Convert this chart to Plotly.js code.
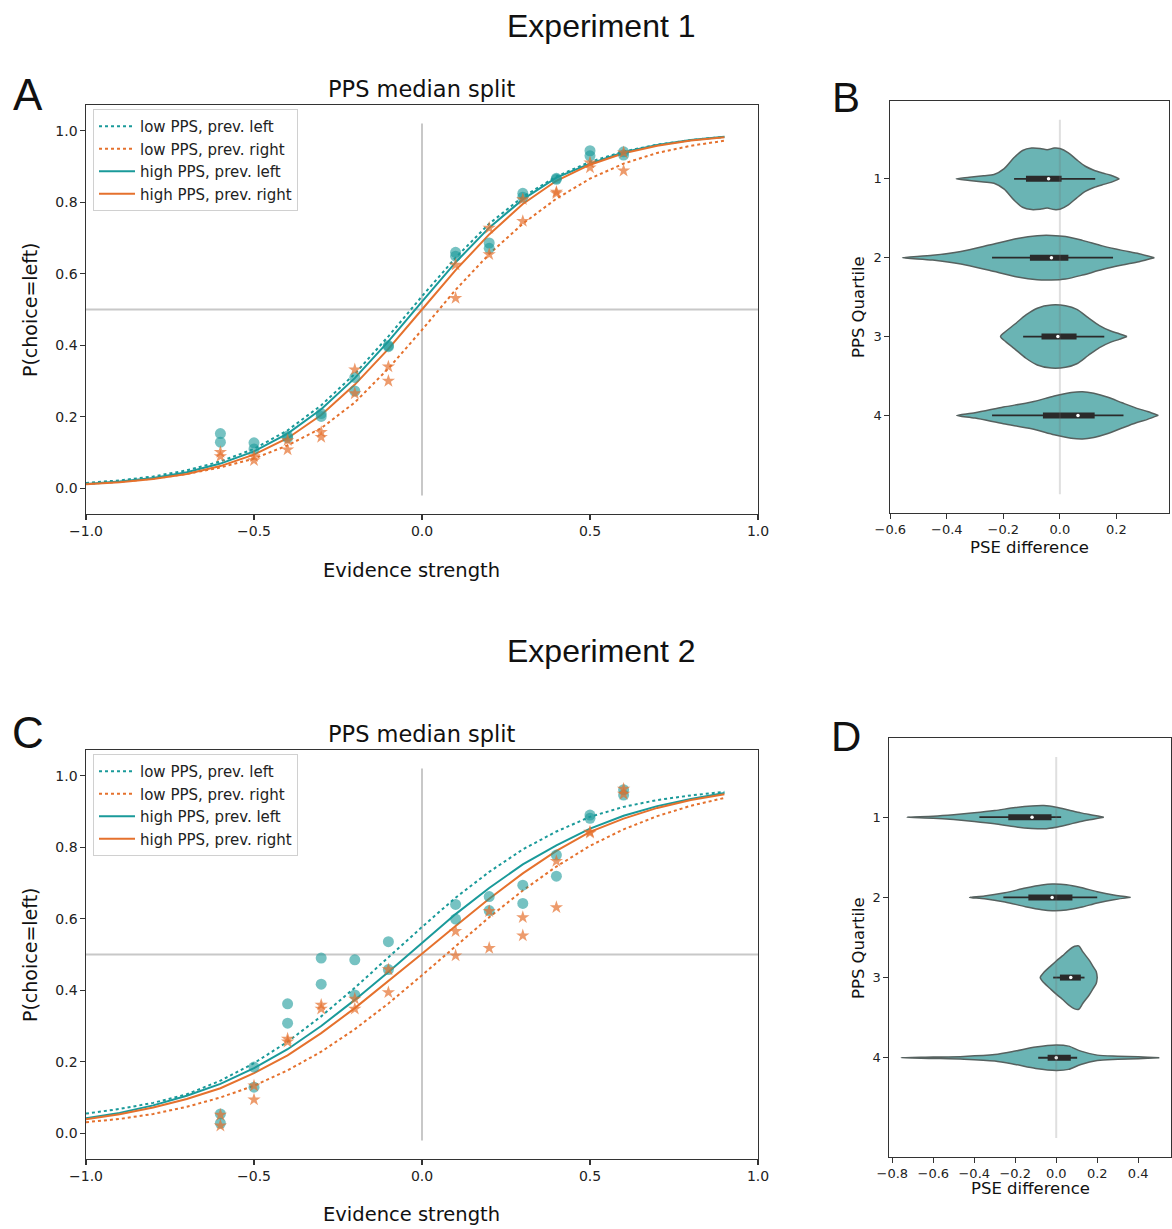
<!DOCTYPE html>
<html>
<head>
<meta charset="utf-8">
<script src="https://cdn.plot.ly/plotly-3.0.1.min.js"></script>
<style>html,body{margin:0;padding:0;background:#fff;}#chart{width:1172px;height:1229px;}</style>
</head>
<body>
<div id="chart"></div>
<script>
// ---------------- DATA ----------------
const evidenceX = [-0.6,-0.5,-0.4,-0.3,-0.2,-0.1,0.1,0.2,0.3,0.4,0.5,0.6];
const curveX = [-1.0,-0.9,-0.8,-0.7,-0.6,-0.5,-0.4,-0.3,-0.2,-0.1,0.0,0.1,0.2,0.3,0.4,0.5,0.6,0.7,0.8,0.9];

// Experiment 1 observed proportions
const exp1LowLeftPts   = [0.153,0.127,0.146,0.209,0.310,0.399,0.660,0.686,0.825,0.867,0.944,0.941];
const exp1HighLeftPts  = [0.129,0.110,0.141,0.201,0.272,0.396,0.649,0.671,0.814,0.864,0.930,0.932];
const exp1LowRightPts  = [0.089,0.078,0.108,0.143,0.265,0.300,0.532,0.654,0.747,0.825,0.897,0.888];
const exp1HighRightPts = [0.101,0.089,0.134,0.157,0.332,0.340,0.625,0.728,0.808,0.829,0.911,0.939];
// Experiment 1 fitted curves
const exp1LowLeftFit   = [0.015,0.022,0.033,0.050,0.075,0.110,0.162,0.232,0.320,0.425,0.537,0.645,0.740,0.815,0.872,0.913,0.942,0.961,0.974,0.983];
const exp1LowRightFit  = [0.012,0.018,0.027,0.040,0.058,0.083,0.120,0.168,0.240,0.335,0.443,0.555,0.655,0.740,0.810,0.866,0.908,0.938,0.958,0.972];
const exp1HighLeftFit  = [0.012,0.019,0.029,0.045,0.069,0.103,0.153,0.221,0.308,0.411,0.522,0.632,0.729,0.808,0.869,0.908,0.940,0.960,0.974,0.983];
const exp1HighRightFit = [0.011,0.017,0.026,0.040,0.062,0.094,0.140,0.205,0.290,0.390,0.500,0.610,0.710,0.795,0.860,0.905,0.937,0.958,0.973,0.982];

// Experiment 2 observed proportions
const exp2LowLeftPts   = [0.054,0.185,0.362,0.490,0.485,0.536,0.640,0.662,0.694,0.778,0.890,0.961];
const exp2HighLeftPts  = [0.028,0.129,0.308,0.417,0.387,0.458,0.599,0.623,0.643,0.719,0.881,0.946];
const exp2LowRightPts  = [0.021,0.094,0.256,0.348,0.348,0.394,0.497,0.518,0.553,0.632,0.840,0.949];
const exp2HighRightPts = [0.051,0.133,0.264,0.359,0.376,0.458,0.565,0.621,0.604,0.761,0.843,0.963];
// Experiment 2 fitted curves
const exp2LowLeftFit   = [0.055,0.068,0.085,0.109,0.147,0.196,0.256,0.327,0.407,0.492,0.577,0.659,0.731,0.794,0.844,0.885,0.913,0.932,0.945,0.955];
const exp2LowRightFit  = [0.031,0.040,0.054,0.074,0.100,0.133,0.176,0.228,0.291,0.363,0.442,0.524,0.604,0.679,0.746,0.804,0.850,0.887,0.916,0.938];
const exp2HighLeftFit  = [0.042,0.057,0.078,0.105,0.138,0.182,0.235,0.300,0.373,0.451,0.532,0.613,0.686,0.752,0.805,0.852,0.888,0.915,0.935,0.952];
const exp2HighRightFit = [0.039,0.053,0.072,0.096,0.126,0.168,0.218,0.280,0.350,0.425,0.502,0.580,0.656,0.727,0.790,0.843,0.880,0.910,0.932,0.948];

const legendLabels = ["low PPS, prev. left","low PPS, prev. right","high PPS, prev. left","high PPS, prev. right"];

// Violin density outlines (PSE difference grid, half-width in quartile units)
const quartiles = [1,2,3,4];
const exp1Q1Grid = [-0.367,-0.32,-0.27,-0.233,-0.197,-0.162,-0.132,-0.10,-0.07,-0.045,-0.02,0.0,0.03,0.06,0.09,0.12,0.15,0.18,0.21];
const exp1Q1Half = [0,0.02,0.04,0.055,0.13,0.27,0.36,0.39,0.385,0.37,0.39,0.385,0.33,0.24,0.16,0.11,0.075,0.045,0];
const exp1Q2Grid = [-0.557,-0.45,-0.35,-0.25,-0.15,-0.08,-0.03,0.02,0.08,0.15,0.22,0.28,0.334];
const exp1Q2Half = [0,0.03,0.08,0.16,0.245,0.28,0.283,0.27,0.22,0.15,0.093,0.05,0];
const exp1Q3Grid = [-0.21,-0.19,-0.16,-0.12,-0.08,-0.03,0.02,0.06,0.10,0.14,0.18,0.21,0.237];
const exp1Q3Half = [0,0.07,0.156,0.275,0.36,0.40,0.39,0.345,0.24,0.14,0.07,0.036,0];
const exp1Q4Grid = [-0.365,-0.30,-0.20,-0.10,-0.02,0.04,0.08,0.12,0.17,0.22,0.27,0.31,0.348];
const exp1Q4Half = [0,0.034,0.106,0.17,0.245,0.29,0.30,0.28,0.23,0.16,0.093,0.05,0];
const exp1BoxQ1 = [-0.12,-0.106,-0.065,-0.06];
const exp1BoxQ3 = [0.006,0.03,0.059,0.123];
const exp1WhiskLo = [-0.162,-0.24,-0.13,-0.24];
const exp1WhiskHi = [0.125,0.188,0.157,0.225];
const exp1Median = [-0.04,-0.03,-0.007,0.064];

const exp2Q1Grid = [-0.728,-0.6,-0.5,-0.4,-0.3,-0.2,-0.12,-0.06,0.0,0.06,0.12,0.18,0.232];
const exp2Q1Half = [0,0.012,0.03,0.054,0.083,0.12,0.14,0.145,0.125,0.09,0.054,0.025,0];
const exp2Q2Grid = [-0.423,-0.35,-0.25,-0.15,-0.07,-0.02,0.05,0.12,0.2,0.28,0.363];
const exp2Q2Half = [0,0.017,0.058,0.116,0.154,0.166,0.158,0.124,0.07,0.029,0];
const exp2Q3Grid = [-0.078,-0.06,-0.03,0.0,0.03,0.06,0.09,0.11,0.13,0.16,0.18,0.195,0.2];
const exp2Q3Half = [0,0.066,0.137,0.207,0.27,0.34,0.39,0.395,0.32,0.22,0.137,0.075,0];
const exp2Q4Grid = [-0.756,-0.6,-0.45,-0.3,-0.2,-0.1,0.0,0.06,0.12,0.2,0.3,0.4,0.503];
const exp2Q4Half = [0,0.008,0.017,0.04,0.083,0.133,0.158,0.145,0.083,0.033,0.02,0.012,0];
const exp2BoxQ1 = [-0.234,-0.136,0.018,-0.042];
const exp2BoxQ3 = [-0.023,0.079,0.12,0.071];
const exp2WhiskLo = [-0.375,-0.258,-0.015,-0.088];
const exp2WhiskHi = [0.024,0.2,0.138,0.102];
const exp2Median = [-0.118,-0.02,0.071,0.0];

// ---------------- STYLE ----------------
const W = 1172, H = 1229;
const px = x => x / W;
const py = y => 1 - y / H;
const TEAL = '#1a9a9a', ORANGE = '#e5712d';
const TEAL_PT = 'rgba(26,154,154,0.6)', ORANGE_PT = 'rgba(229,113,45,0.7)';
const VIOLIN_FILL = 'rgba(106,180,180,1)', VIOLIN_EDGE = '#56615f', BOXC = '#2a2a2a';
const FONT = 'DejaVu Sans, sans-serif';
const HEAD = 'Liberation Sans, Arial, sans-serif';

const traces = [];

function psychPanel(xa, ya, legendId, fits, pts) {
  const styles = [
    {color: TEAL, dash: 'dot'}, {color: ORANGE, dash: 'dot'},
    {color: TEAL, dash: 'solid'}, {color: ORANGE, dash: 'solid'}
  ];
  fits.forEach((f, i) => {
    traces.push({x: curveX, y: f, xaxis: xa, yaxis: ya, type: 'scatter', mode: 'lines',
      name: legendLabels[i], legend: legendId,
      line: {color: styles[i].color, dash: styles[i].dash, width: 2}});
  });
  pts.forEach((p, i) => {
    const left = i < 2;
    traces.push({x: evidenceX, y: p, xaxis: xa, yaxis: ya, type: 'scatter', mode: 'markers',
      showlegend: false,
      marker: left ? {symbol: 'circle', size: 11, color: TEAL_PT, line: {width: 0}}
                   : {symbol: 'star', size: 10, color: ORANGE_PT, line: {width: 0}}});
  });
}

psychPanel('x', 'y', 'legend',
  [exp1LowLeftFit, exp1LowRightFit, exp1HighLeftFit, exp1HighRightFit],
  [exp1LowLeftPts, exp1HighLeftPts, exp1LowRightPts, exp1HighRightPts]);
psychPanel('x3', 'y3', 'legend2',
  [exp2LowLeftFit, exp2LowRightFit, exp2HighLeftFit, exp2HighRightFit],
  [exp2LowLeftPts, exp2HighLeftPts, exp2LowRightPts, exp2HighRightPts]);

function violinPanel(xa, ya, grids, halves, q1, q3, wlo, whi, med) {
  grids.forEach((g, i) => {
    const c = quartiles[i], hw = halves[i];
    const xs = g.concat(g.slice().reverse());
    const ys = g.map((_, k) => c - hw[k]).concat(g.map((_, k) => c + hw[k]).reverse());
    traces.push({x: xs, y: ys, xaxis: xa, yaxis: ya, type: 'scatter', mode: 'lines',
      fill: 'toself', fillcolor: VIOLIN_FILL, showlegend: false,
      line: {color: VIOLIN_EDGE, width: 1.5, shape: 'spline', smoothing: 0.8}});
    traces.push({x: [wlo[i], whi[i]], y: [c, c], xaxis: xa, yaxis: ya, type: 'scatter', mode: 'lines',
      showlegend: false, line: {color: BOXC, width: 1.8}});
    traces.push({x: [q1[i], q3[i]], y: [c, c], xaxis: xa, yaxis: ya, type: 'scatter', mode: 'lines',
      showlegend: false, line: {color: BOXC, width: 6}});
    traces.push({x: [med[i]], y: [c], xaxis: xa, yaxis: ya, type: 'scatter', mode: 'markers',
      showlegend: false, marker: {color: '#ffffff', size: 3.5, line: {width: 0}}});
  });
}
violinPanel('x2', 'y2', [exp1Q1Grid, exp1Q2Grid, exp1Q3Grid, exp1Q4Grid],
  [exp1Q1Half, exp1Q2Half, exp1Q3Half, exp1Q4Half], exp1BoxQ1, exp1BoxQ3, exp1WhiskLo, exp1WhiskHi, exp1Median);
violinPanel('x4', 'y4', [exp2Q1Grid, exp2Q2Grid, exp2Q3Grid, exp2Q4Grid],
  [exp2Q1Half, exp2Q2Half, exp2Q3Half, exp2Q4Half], exp2BoxQ1, exp2BoxQ3, exp2WhiskLo, exp2WhiskHi, exp2Median);

// ---------------- LAYOUT ----------------
const axBase = {showline: true, mirror: true, linecolor: '#333', linewidth: 1.1, ticks: 'outside',
  ticklen: 4.5, tickwidth: 1.1, tickcolor: '#333', showgrid: false, zeroline: false,
  tickfont: {family: FONT, size: 14, color: '#222'}};
const psyX = d => Object.assign({}, axBase, {domain: d, range: [-1, 1], tickvals: [-1, -0.5, 0, 0.5, 1], tickformat: '.1f'});
const psyY = d => Object.assign({}, axBase, {domain: d, range: [-0.072, 1.072], tickvals: [0, 0.2, 0.4, 0.6, 0.8, 1.0], tickformat: '.1f'});
const vioFont = {family: FONT, size: 13, color: '#222'};
const legendBase = {xanchor: 'left', yanchor: 'top', bgcolor: 'rgba(255,255,255,0.85)',
  bordercolor: '#d0d0d0', borderwidth: 1, font: {family: FONT, size: 15, color: '#222'},
  itemwidth: 36, tracegroupgap: 0};

const layout = {
  width: W, height: H, margin: {l: 0, r: 0, t: 0, b: 0},
  paper_bgcolor: '#fff', plot_bgcolor: '#fff', showlegend: true,
  xaxis: Object.assign(psyX([px(86), px(758)]), {anchor: 'y'}),
  yaxis: Object.assign(psyY([py(514), py(105)]), {anchor: 'x'}),
  xaxis3: Object.assign(psyX([px(86), px(758)]), {anchor: 'y3'}),
  yaxis3: Object.assign(psyY([py(1159), py(750)]), {anchor: 'x3'}),
  xaxis2: Object.assign({}, axBase, {domain: [px(890), px(1169)], anchor: 'y2', range: [-0.601, 0.386],
    tickvals: [-0.6, -0.4, -0.2, 0, 0.2], tickformat: '.1f', tickfont: vioFont}),
  yaxis2: Object.assign({}, axBase, {domain: [py(513), py(101)], anchor: 'x2', range: [5.2375, 0.0125],
    tickvals: quartiles, tickfont: vioFont}),
  xaxis4: Object.assign({}, axBase, {domain: [px(889), px(1171)], anchor: 'y4', range: [-0.816, 0.56],
    tickvals: [-0.8, -0.6, -0.4, -0.2, 0, 0.2, 0.4], tickformat: '.1f', tickfont: vioFont}),
  yaxis4: Object.assign({}, axBase, {domain: [py(1157), py(738)], anchor: 'x4', range: [5.2375, 0.0125],
    tickvals: quartiles, tickfont: vioFont}),
  legend: Object.assign({x: px(93), y: py(109)}, legendBase),
  legend2: Object.assign({x: px(93), y: py(754)}, legendBase),
  shapes: [],
  annotations: []
};

// reference lines
const chanceLevel = 0.5, zeroEvidence = 0, vSpan = [-0.02, 1.02], vioSpan = [0.25, 5.0];
[['x', 'y'], ['x3', 'y3']].forEach(([xa, ya]) => {
  layout.shapes.push({type: 'line', xref: xa + ' domain', yref: ya, x0: 0, x1: 1, y0: chanceLevel, y1: chanceLevel,
    line: {color: '#c8c8c8', width: 2}, layer: 'below'});
  layout.shapes.push({type: 'line', xref: xa, yref: ya, x0: zeroEvidence, x1: zeroEvidence, y0: vSpan[0], y1: vSpan[1],
    line: {color: '#c8c8c8', width: 2}, layer: 'below'});
});
[['x2', 'y2'], ['x4', 'y4']].forEach(([xa, ya]) => {
  layout.shapes.push({type: 'line', xref: xa, yref: ya, x0: 0, x1: 0, y0: vioSpan[0], y1: vioSpan[1],
    line: {color: 'rgba(110,110,110,0.22)', width: 2}, layer: 'above'});
});

function ann(text, x, y, size, family, extra) {
  layout.annotations.push(Object.assign({text: text, xref: 'paper', yref: 'paper', x: px(x), y: py(y),
    xanchor: 'center', yanchor: 'middle', showarrow: false, font: {family: family, size: size, color: '#111'}}, extra || {}));
}
ann('Experiment 1', 601, 26, 32, HEAD);
ann('Experiment 2', 601, 651, 32, HEAD);
ann('A', 28, 95, 44, HEAD);
ann('B', 846, 98, 42, HEAD);
ann('C', 28, 732, 44, HEAD);
ann('D', 846, 736, 42, HEAD);
ann('PPS median split', 422, 89, 22.5, FONT);
ann('PPS median split', 422, 734, 22.5, FONT);
ann('Evidence strength', 411, 570, 19.5, FONT);
ann('Evidence strength', 411, 1214, 19.5, FONT);
ann('P(choice=left)', 30, 310, 19, FONT, {textangle: -90});
ann('P(choice=left)', 30, 955, 19, FONT, {textangle: -90});
ann('PPS Quartile', 858, 307, 16.5, FONT, {textangle: -90});
ann('PPS Quartile', 858, 948, 16.5, FONT, {textangle: -90});
ann('PSE difference', 1029, 547, 16.5, FONT);
ann('PSE difference', 1030, 1188, 16.5, FONT);

Plotly.newPlot('chart', traces, layout, {displayModeBar: false, staticPlot: true});
</script>
</body>
</html>
